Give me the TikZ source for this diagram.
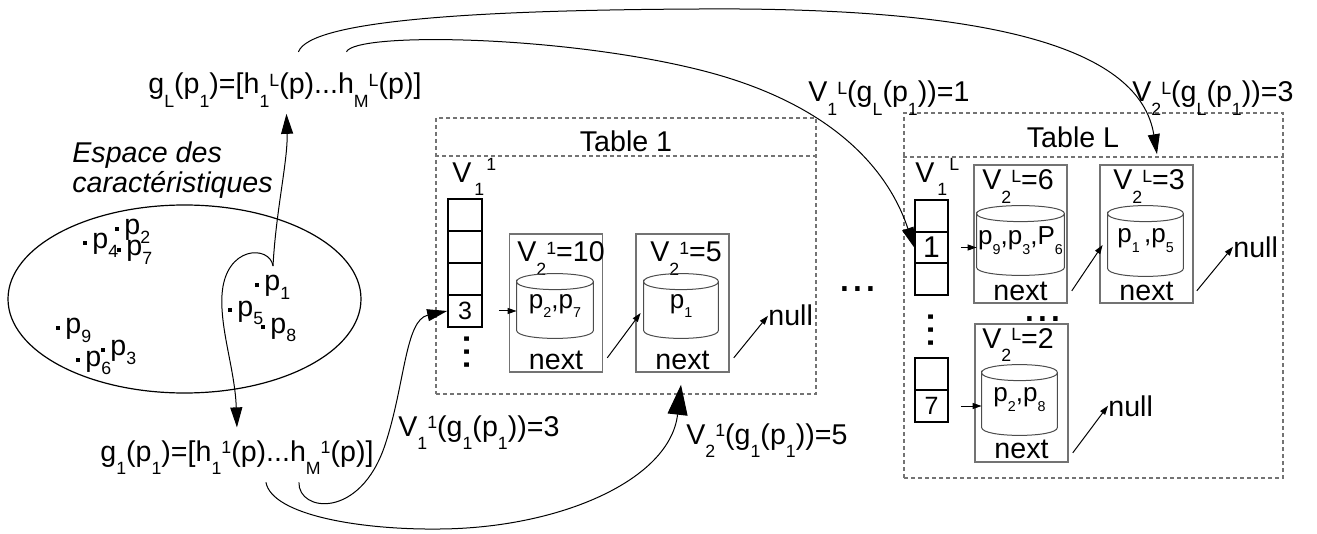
\documentclass[tikz,border=0pt]{standalone}
\usepackage{fontspec}
\setmainfont{Liberation Sans}
\usepackage{graphicx}
\usetikzlibrary{arrows.meta,calc,shapes.geometric}
\newcommand\dn[1]{\raisebox{-0.47em}{\scalebox{0.62}{#1}}}
\newcommand\pdn[1]{\raisebox{-0.3em}{\scalebox{0.62}{#1}}}
\newcommand\up[1]{\raisebox{0.27em}{\scalebox{0.62}{#1}}}
\newcommand\du[2]{\dn{#1}\up{#2}}
\newcommand\cdn[1]{\raisebox{-0.38em}{\scalebox{0.55}{#1}}}
\newcommand\vlab[2]{V\hspace{0.1em}\raisebox{-0.42em}{\scalebox{0.62}{#1}}\hspace{0.08em}\raisebox{0.42em}{\scalebox{0.62}{#2}}}
\newcommand\mycyl[6]{%
  \node[cylt, minimum width=#4*0.5pt, minimum height=#5*0.5pt] (#1) at (#2,#3) {#6};
  \draw[cylline] ($(#1.north west)+(0,8)$) .. controls +(0,-10.67) and +(0,-10.67) .. ($(#1.north east)+(0,8)$)
     .. controls +(0,10.67) and +(0,10.67) .. ($(#1.north west)+(0,8)$)
     -- ($(#1.south west)+(0,-8)$) .. controls +(0,10.67) and +(0,10.67) .. ($(#1.south east)+(0,-8)$)
     -- ($(#1.north east)+(0,8)$);
}
\tikzset{
  txt/.style={inner sep=0pt, font=\fontsize{14.3}{17}\selectfont},
  cell/.style={draw, line width=0.8pt, minimum width=17pt, minimum height=16pt, inner sep=0pt, font=\fontsize{12.5}{14}\selectfont},
  bucket/.style={draw=black!55, line width=0.8pt, minimum width=46.5pt, minimum height=69pt, inner sep=0pt},
  tablebox/.style={draw=black!55, line width=0.6pt, dash pattern=on 2pt off 1.5pt, inner sep=0pt},
  tline/.style={draw=black!55, line width=0.6pt, dash pattern=on 2pt off 1.5pt},
  cylt/.style={inner sep=0pt, font=\fontsize{13}{15}\selectfont},
  cylline/.style={draw=black!70, line width=0.5pt},
  pt/.style={fill=black, rectangle, minimum size=2pt, inner sep=0pt},
  conn/.style={line width=0.5pt},
  bigtip/.style={-{Triangle[length=10pt,width=6pt]}},
  hugetip/.style={-{Triangle[length=15pt,width=10pt]}},
  smalltip/.style={-{Triangle[length=4.5pt,width=3pt]}},
  dots/.style={inner sep=0pt, font=\fontsize{23}{23}\selectfont},
}
\begin{document}
\begin{tikzpicture}[x=0.5pt,y=-0.5pt]
\path[use as bounding box] (0,0) rectangle (1317,534);

% ---------------- feature space
\node[draw, ellipse, line width=0.6pt, minimum width=176.5pt, minimum height=94pt, inner sep=0pt] (space) at (184.5,299) {};
\node[txt, font=\fontsize{14.3}{15}\selectfont\itshape, align=left, anchor=north west] (esp) at (72,141) {Espace des\\caractéristiques};

\node[pt] (p2) at (117,229) {};
\node[pt] (p4) at (85,243) {};
\node[pt] (p7) at (119,250) {};
\node[pt] (p1) at (257,285) {};
\node[pt] (p5) at (230,310) {};
\node[pt] (p8) at (263,327) {};
\node[pt] (p9) at (58,328) {};
\node[pt] (p6) at (78,360) {};
\node[pt] (p3) at (103,350) {};
\foreach \n in {2,4,7,1,5,8,9,6,3}{
  \node[txt, anchor=base west] (l\n) at ($(p\n)+(7,6)$) {p\pdn{\n}};
}
\coordinate (src) at (273,266);

% ---------------- hash values
\node[txt, anchor=base west] (gL) at (148,94) {g\dn{L}(p\dn{1})=[h\du{1}{L}(p)...h\du{M}{L}(p)]};
\node[txt, anchor=base west] (g1) at (100,461.5) {g\dn{1}(p\dn{1})=[h\du{1}{1}(p)...h\du{M}{1}(p)]};

% ---------------- Table 1
\node[tablebox, minimum width=190pt, minimum height=138pt] (T1) at (626,256) {};
\draw[tline] (T1.west |- 0,156) -- (T1.east |- 0,156);
\node[txt, anchor=base] (T1t) at (626,152) {Table 1};
\node[txt, anchor=base west] (v11) at (452,183) {\vlab{1}{1}};
\node[cell] (a1) at (465,215) {};
\node[cell] (a2) at (465,247) {};
\node[cell] (a3) at (465,279) {};
\node[cell] (a4) at (465,311) {3};
\node[dots, rotate=90] (adots) at (467,352) {...};

\node[bucket] (b1) at (556,303) {};
\node[txt, anchor=base west] (b1h) at (517,262) {V\du{2}{1}=10};
\node[txt, anchor=base] (b1n) at (556,369) {next};
\mycyl{c1}{555}{306}{76}{64}{p\cdn{2},p\cdn{7}}

\node[bucket] (b2) at (682.5,303) {};
\node[txt, anchor=base west] (b2h) at (650,262) {V\du{2}{1}=5};
\node[txt, anchor=base] (b2n) at (682.5,369) {next};
\mycyl{c2}{681}{306}{74}{64}{p\cdn{1}\hspace{1.2em}}
\node[txt, anchor=base west] (nul1) at (768,326) {null};

\draw[conn, smalltip] ([xshift=8]a4.east) -- (c1.west |- a4.east);
\draw[conn, smalltip] ([shift={(4,-15)}]b1.south east) -- ([shift={(-3,7)}]c2.west);
\draw[conn, smalltip] ([shift={(4,-15)}]b2.south east) -- (nul1.west);

\node[dots] (mid) at (858,289) {...};

% ---------------- Table L
\node[tablebox, minimum width=189.5pt, minimum height=182.5pt] (TL) at (1093.5,295.5) {};
\draw[tline] (TL.west |- 0,157) -- (TL.east |- 0,157);
\node[txt, anchor=base] (TLt) at (1073,148) {Table L};
\node[txt, anchor=base west] (v1L) at (915,183) {\vlab{1}{L}};
\node[cell, minimum width=16.5pt, minimum height=15.75pt] (d1) at (931.5,216) {};
\node[cell, minimum width=16.5pt, minimum height=15.75pt, font=\fontsize{15}{16}\selectfont] (d2) at (931.5,247.5) {1};
\node[cell, minimum width=16.5pt, minimum height=15.75pt] (d3) at (931.5,279) {};
\node[dots, rotate=90] (ddots) at (931,330) {...};
\node[cell, minimum width=16.5pt, minimum height=16pt] (d4) at (931.5,374) {};
\node[cell, minimum width=16.5pt, minimum height=16pt] (d5) at (931.5,406) {7};

\node[bucket] (bL1) at (1020.5,234) {};
\node[txt, anchor=base west] (bL1h) at (982,190) {V\du{2}{L}=6};
\node[txt, anchor=base] (bL1n) at (1020.5,300) {next};
\mycyl{cL1}{1020.5}{240.5}{87}{69}{p\cdn{9},p\cdn{3},P\cdn{6}}

\node[bucket] (bL2) at (1146.5,234) {};
\node[txt, anchor=base west] (bL2h) at (1113,190) {V\du{2}{L}=3};
\node[txt, anchor=base] (bL2n) at (1146.5,300) {next};
\mycyl{cL2}{1145.5}{241}{75}{70}{p\cdn{1}\,,p\cdn{5}}

\node[dots] (hdots) at (1043,319) {...};

\node[bucket] (bL3) at (1021.5,393) {};
\node[txt, anchor=base west] (bL3h) at (982,348) {V\du{2}{L}=2};
\node[txt, anchor=base] (bL3n) at (1021.5,458) {next};
\mycyl{cL3}{1019.5}{400}{75}{70}{p\cdn{2},p\cdn{8}}

\node[txt, anchor=base west] (nulL1) at (1233,257) {null};
\node[txt, anchor=base west] (nulL2) at (1108,416) {null};

\draw[conn, smalltip] ([xshift=6]d2.east) -- (cL1.west |- d2.east);
\draw[conn, smalltip] ([shift={(4,-13)}]bL1.south east) -- ([shift={(-5,4)}]cL2.west);
\draw[conn, smalltip] ([shift={(3,-13)}]bL2.south east) -- (nulL1.west);
\draw[conn, smalltip] ([xshift=6]d5.east) -- (cL3.west |- d5.east);
\draw[conn, smalltip] ([shift={(4,-10)}]bL3.south east) -- (nulL2.west);

% ---------------- labels
\node[txt, anchor=base west] (lab1) at (398,436) {V\du{1}{1}(g\dn{1}(p\dn{1}))=3};
\node[txt, anchor=base west] (lab2) at (686,444) {V\du{2}{1}(g\dn{1}(p\dn{1}))=5};
\node[txt, anchor=base west] (lab3) at (808,102) {V\du{1}{L}(g\dn{L}(p\dn{1}))=1};
\node[txt, anchor=base west] (lab4) at (1132,102) {V\du{2}{L}(g\dn{L}(p\dn{1}))=3};

% ---------------- connectors
\draw[conn, bigtip] (src) .. controls (276,210) and (288,160) .. ($(gL.south)+(1.5,6)$);
\draw[conn, bigtip] (src) .. controls (270,245) and (225,245) .. (222,295)
   .. controls (220,330) and (235,370) .. ($(g1.north)+(0,-13)$);
\draw[conn, bigtip] ([shift={(62,7)}]g1.south) .. controls (298,512) and (360,520) .. (385,445)
   .. controls (405,385) and (405,320) .. (a4.west);
\draw[conn, hugetip] ([shift={(29,7)}]g1.south) .. controls (272,515) and (360,530) .. (440,529)
   .. controls (560,528) and (670,480) .. ($(b2.south)+(-1.5,12)$);
\draw[conn, bigtip] ([shift={(61.5,-21)}]gL.north) .. controls (355,32) and (560,35) .. (700,70)
   .. controls (820,100) and (885,160) .. (d2.west);
\draw[conn, bigtip] ([shift={(13.5,-21)}]gL.north) .. controls (310,20) and (480,10) .. (700,9)
   .. controls (1000,7) and (1140,50) .. ($(bL2.north)+(10.5,-10)$);
\end{tikzpicture}
\end{document}
